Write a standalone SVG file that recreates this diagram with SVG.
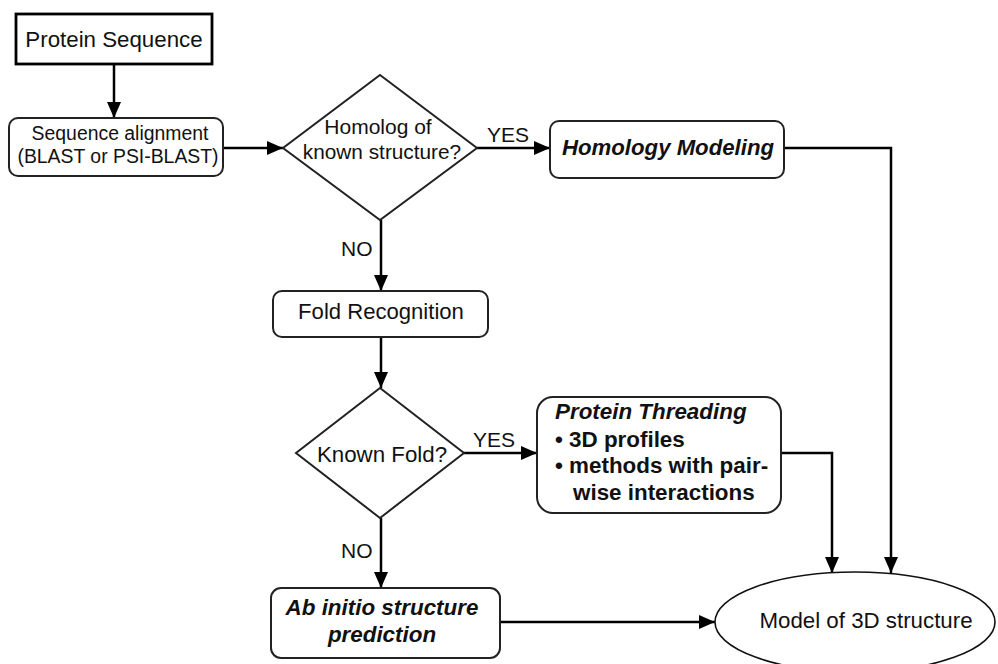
<svg xmlns="http://www.w3.org/2000/svg" width="998" height="664" viewBox="0 0 998 664">
<defs>
<marker id="ah" markerUnits="userSpaceOnUse" viewBox="0 0 16 14" refX="16" refY="7" markerWidth="16" markerHeight="14" orient="auto">
<path d="M0,0 L16,7 L0,14 z" fill="#000"/>
</marker>
</defs>
<style>
.box{fill:#fff;stroke:#222;stroke-width:2}
.dia{fill:#fff;stroke:#222;stroke-width:2}
.t{font-family:"Liberation Sans",Arial,sans-serif;fill:#111;text-anchor:middle}
.bi{font-weight:bold;font-style:italic}
.b{font-weight:bold}
.c{fill:none;stroke:#000;stroke-width:2.5}
.ca{fill:none;stroke:#000;stroke-width:2.5;marker-end:url(#ah)}
.lbl{font-family:"Liberation Sans",Arial,sans-serif;fill:#111;font-size:21px}
</style>
<rect width="998" height="664" fill="#fff"/>
<g id="connectors">
<line class="ca" x1="114" y1="64" x2="114" y2="118"/>
<line class="ca" x1="223" y1="148" x2="283" y2="148"/>
<line class="ca" x1="477" y1="148" x2="550" y2="148"/>
<line class="ca" x1="381" y1="220" x2="381" y2="291"/>
<line class="ca" x1="381" y1="337" x2="381" y2="388"/>
<line class="ca" x1="464" y1="453" x2="537" y2="453"/>
<line class="ca" x1="381" y1="518" x2="381" y2="588"/>
<line class="ca" x1="500" y1="622" x2="715" y2="622"/>
<polyline class="ca" points="784,148 891,148 891,573"/>
<polyline class="ca" points="781,453 832,453 832,573"/>
<text class="lbl" x="487" y="142">YES</text>
<text class="lbl" x="341" y="256">NO</text>
<text class="lbl" x="473" y="447">YES</text>
<text class="lbl" x="341" y="558">NO</text>
</g>
<g id="protein-sequence">
<rect x="16" y="14" width="196" height="50" fill="#fff" stroke="#000" stroke-width="2.8"/>
<text class="t" x="114" y="47" font-size="22.3">Protein Sequence</text>
</g>
<g id="sequence-alignment">
<rect class="box" x="9" y="118" width="214" height="58" rx="9"/>
<text class="t" x="120" y="140" font-size="19.4">Sequence alignment</text>
<text class="t" x="118" y="163" font-size="19.4">(BLAST or PSI-BLAST)</text>
</g>
<g id="homolog-decision">
<polygon class="dia" points="380,75 477,148 380,220 283,148"/>
<text class="t" x="378" y="134" font-size="21">Homolog of</text>
<text class="t" x="382" y="159" font-size="20.8">known structure?</text>
</g>
<g id="homology-modeling">
<rect class="box" x="550" y="121" width="234" height="57" rx="9"/>
<text class="t bi" x="668" y="155" font-size="22.2">Homology Modeling</text>
</g>
<g id="fold-recognition">
<rect class="box" x="273" y="291" width="215" height="46" rx="9"/>
<text class="t" x="381" y="319" font-size="22.1">Fold Recognition</text>
</g>
<g id="known-fold-decision">
<polygon class="dia" points="380,388 464,453 380,518 296,453"/>
<text class="t" x="382" y="462" font-size="22.3">Known Fold?</text>
</g>
<g id="protein-threading">
<rect class="box" x="537" y="397" width="244" height="116" rx="16"/>
<text class="t bi" x="555" y="419" font-size="22.4" text-anchor="start" style="text-anchor:start">Protein Threading</text>
<text class="t b" x="555" y="447" font-size="22.4" style="text-anchor:start">• 3D profiles</text>
<text class="t b" x="555" y="473" font-size="22.4" style="text-anchor:start">• methods with pair-</text>
<text class="t b" x="573" y="500" font-size="22.4" style="text-anchor:start">wise interactions</text>
</g>
<g id="ab-initio">
<rect class="box" x="271" y="588" width="229" height="70" rx="10"/>
<text class="t bi" x="382" y="615" font-size="22.4">Ab initio structure</text>
<text class="t bi" x="382" y="642" font-size="22.4">prediction</text>
</g>
<g id="model-3d">
<ellipse cx="855" cy="622" rx="140" ry="50" fill="#fff" stroke="#111" stroke-width="1.6"/>
<text class="t" x="866" y="628" font-size="22.3">Model of 3D structure</text>
</g>
</svg>
